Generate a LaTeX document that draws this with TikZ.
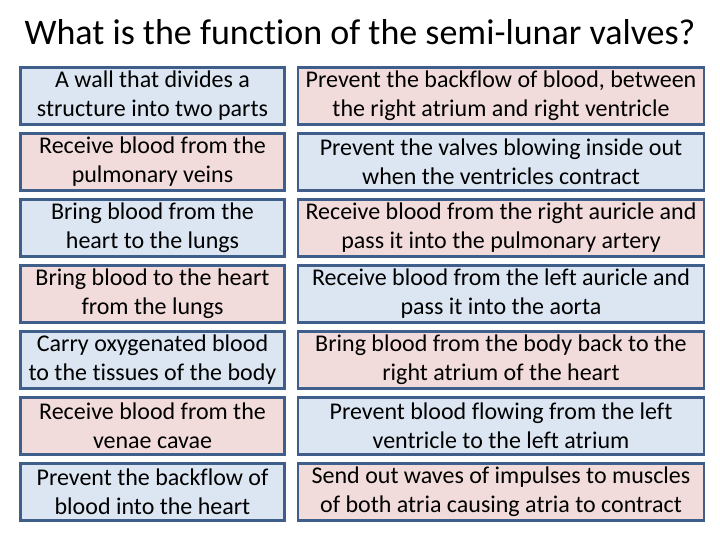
\documentclass[tikz,border=0pt]{standalone}
\usepackage{fontspec}
\setmainfont{Carlito}[Ligatures=NoCommon]
\definecolor{bl}{HTML}{DCE6F2}
\definecolor{pk}{HTML}{F2DCDB}
\definecolor{bd}{HTML}{3F5E8A}
\begin{document}
\begin{tikzpicture}[x=1pt,y=-1pt,
 card/.style={draw=bd,line width=2.5pt,align=center,inner sep=0pt,font=\fontsize{24}{29}\selectfont},
 lc/.style={card,minimum width=264,minimum height=57},
 rc/.style={card,minimum width=406,minimum height=57}]
\useasboundingbox (0,0) rectangle (720,540);
\node[font=\fontsize{36}{40}\selectfont] (title) at (360,32) {What is the function of the semi-lunar valves?};
\node[lc,fill=bl] (l1) at (152.5,96) {A wall that divides a\\structure into two parts};
\node[lc,fill=pk] (l2) at (152.5,162) {Receive blood from the\\pulmonary veins};
\node[lc,fill=bl] (l3) at (152.5,228) {Bring blood from the\\heart to the lungs};
\node[lc,fill=pk] (l4) at (152.5,294) {Bring blood to the heart\\from the lungs};
\node[lc,fill=bl] (l5) at (152.5,360) {Carry oxygenated blood\\to the tissues of the body};
\node[lc,fill=pk] (l6) at (152.5,426) {Receive blood from the\\venae cavae};
\node[lc,fill=bl] (l7) at (152.5,492) {Prevent the backflow of\\blood into the heart};
\node[rc,fill=pk] (r1) at (501,96) {Prevent the backflow of blood, between\\the right atrium and right ventricle};
\node[rc,fill=bl] (r2) at (501,162) {Prevent the valves blowing inside out\\when the ventricles contract};
\node[rc,fill=pk] (r3) at (501,228) {Receive blood from the right auricle and\\pass it into the pulmonary artery};
\node[rc,fill=bl] (r4) at (501,294) {Receive blood from the left auricle and\\pass it into the aorta};
\node[rc,fill=pk] (r5) at (501,360) {Bring blood from the body back to the\\right atrium of the heart};
\node[rc,fill=bl] (r6) at (501,426) {Prevent blood flowing from the left\\ventricle to the left atrium};
\node[rc,fill=pk] (r7) at (501,492) {Send out waves of impulses to muscles\\of both atria causing atria to contract};
\end{tikzpicture}
\end{document}
